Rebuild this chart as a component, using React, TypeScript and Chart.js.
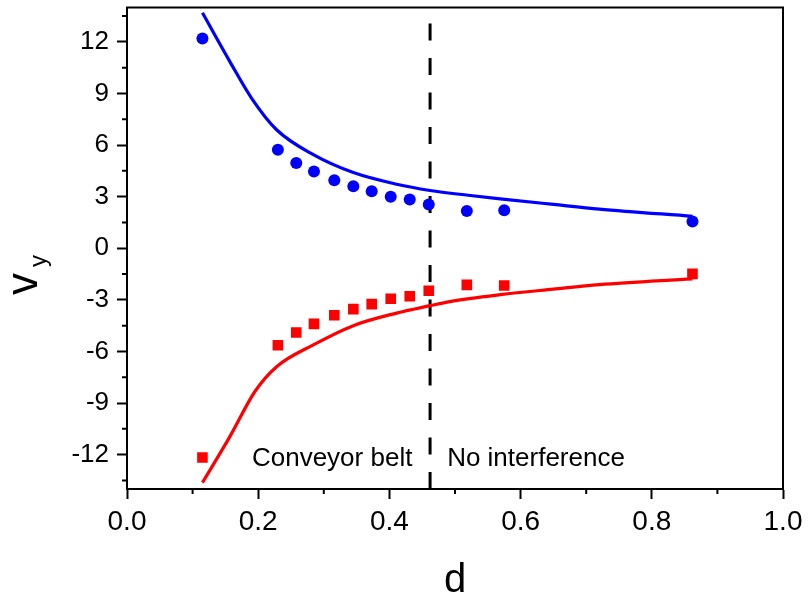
import React, { useEffect, useRef } from "react";
import { Chart, registerables } from "chart.js";
Chart.register(...registerables);

// Measured points
const pointX = [0.115, 0.23, 0.258, 0.285, 0.316, 0.345, 0.373, 0.402, 0.431, 0.46, 0.518, 0.575, 0.862];
const blueY = [12.2, 5.73, 4.96, 4.46, 3.96, 3.61, 3.31, 2.99, 2.84, 2.55, 2.17, 2.21, 1.55];
const redY = [-12.17, -5.64, -4.9, -4.4, -3.9, -3.54, -3.25, -2.94, -2.79, -2.47, -2.13, -2.17, -1.49];

// Model curves
const blueFitX = [0.115, 0.157, 0.19, 0.228, 0.284, 0.345, 0.411, 0.462, 0.52, 0.569, 0.65, 0.72, 0.862];
const blueFitY = [13.69, 10.84, 8.72, 6.89, 5.44, 4.4, 3.72, 3.36, 3.08, 2.87, 2.55, 2.28, 1.86];
const redFitX = [0.115, 0.157, 0.195, 0.228, 0.284, 0.345, 0.411, 0.462, 0.492, 0.569, 0.65, 0.72, 0.862];
const redFitY = [-13.63, -10.94, -8.33, -6.89, -5.62, -4.5, -3.77, -3.34, -3.1, -2.7, -2.38, -2.12, -1.78];

// Divider
const dividerX = 0.462;

// Axes
const xTicks = [0, 0.2, 0.4, 0.6, 0.8, 1.0];
const xMinorTicks = [0.1, 0.3, 0.5, 0.7, 0.9];
const yTicks = [-12, -9, -6, -3, 0, 3, 6, 9, 12];
const yMinorTicks = [-13.5, -10.5, -7.5, -4.5, -1.5, 1.5, 4.5, 7.5, 10.5, 13.5];
const xRange = [0, 1];
const yRange = [-14, 14];

// Annotations
const annotationTexts = ["Conveyor belt", "No interference"];
const annotationX = [0.1905, 0.488];
const annotationY = -12.25;

const FONT = "'Liberation Sans', Arial, sans-serif";

const decorPlugin = {
  id: "decor",
  afterDraw(chart: any) {
    const { ctx, chartArea } = chart;
    const xs = chart.scales.x;
    const ys = chart.scales.y;
    ctx.save();
    ctx.strokeStyle = "#000";
    ctx.lineWidth = 2;
    ctx.strokeRect(chartArea.left, chartArea.top, chartArea.right - chartArea.left, chartArea.bottom - chartArea.top);
    ctx.beginPath();
    xMinorTicks.forEach((v) => {
      const px = xs.getPixelForValue(v);
      ctx.moveTo(px, chartArea.bottom);
      ctx.lineTo(px, chartArea.bottom + 5);
    });
    yMinorTicks.forEach((v) => {
      const py = ys.getPixelForValue(v);
      ctx.moveTo(chartArea.left, py);
      ctx.lineTo(chartArea.left - 5, py);
    });
    ctx.stroke();
    ctx.fillStyle = "#000";
    ctx.font = `26px ${FONT}`;
    ctx.textAlign = "left";
    ctx.textBaseline = "middle";
    annotationTexts.forEach((t, i) => {
      ctx.fillText(t, xs.getPixelForValue(annotationX[i]), ys.getPixelForValue(annotationY));
    });
    ctx.font = `40px ${FONT}`;
    ctx.textAlign = "center";
    ctx.textBaseline = "alphabetic";
    ctx.fillText("d", (chartArea.left + chartArea.right) / 2, 592);
    ctx.translate(37, 295);
    ctx.rotate(-Math.PI / 2);
    ctx.textAlign = "left";
    ctx.font = `44px ${FONT}`;
    ctx.fillText("v", 0, 0);
    const w = ctx.measureText("v").width;
    ctx.font = `24px ${FONT}`;
    ctx.fillText("y", w + 6, 9);
    ctx.restore();
  },
};

export default function App() {
  const ref = useRef<HTMLCanvasElement | null>(null);
  useEffect(() => {
    if (!ref.current) return;
    const chart = new Chart(ref.current, {
      type: "scatter",
      data: {
        datasets: [
          {
            label: "blue",
            data: pointX.map((x, i) => ({ x, y: blueY[i] })),
            showLine: false,
            pointStyle: "circle",
            pointRadius: 6,
            backgroundColor: "#0000ff",
            borderWidth: 0,
          },
          {
            label: "red",
            data: pointX.map((x, i) => ({ x, y: redY[i] })),
            showLine: false,
            pointStyle: "rect",
            pointRadius: 7.5,
            backgroundColor: "#ff0000",
            borderWidth: 0,
          },
          {
            label: "blue fit",
            data: blueFitX.map((x, i) => ({ x, y: blueFitY[i] })),
            showLine: true,
            pointRadius: 0,
            borderColor: "#0000ff",
            borderWidth: 3.2,
            cubicInterpolationMode: "monotone",
          },
          {
            label: "red fit",
            data: redFitX.map((x, i) => ({ x, y: redFitY[i] })),
            showLine: true,
            pointRadius: 0,
            borderColor: "#ff0000",
            borderWidth: 3.2,
            cubicInterpolationMode: "monotone",
          },
          {
            label: "divider",
            data: [
              { x: dividerX, y: yRange[0] },
              { x: dividerX, y: yRange[1] },
            ],
            showLine: true,
            pointRadius: 0,
            borderColor: "#000",
            borderWidth: 3,
            borderDash: [17, 17.5],
          },
        ],
      } as any,
      options: {
        animation: false,
        responsive: false,
        devicePixelRatio: 1,
        layout: { padding: { top: 6, right: 25, left: 0, bottom: 0 } },
        plugins: { legend: { display: false }, tooltip: { enabled: false } },
        scales: {
          x: {
            type: "linear",
            min: xRange[0],
            max: xRange[1],
            afterBuildTicks: (s: any) => {
              s.ticks = xTicks.map((v) => ({ value: v }));
            },
            afterFit: (s: any) => {
              s.height = 110;
              s.paddingLeft = 0;
              s.paddingRight = 0;
            },
            grid: { drawOnChartArea: false, drawTicks: true, tickLength: 10, tickWidth: 2, tickColor: "#000" },
            border: { display: true, color: "#000", width: 2 },
            ticks: {
              color: "#000",
              font: { family: FONT, size: 28 },
              padding: 6,
              maxRotation: 0,
              callback: (v: any) => Number(v).toFixed(1),
            },
          },
          y: {
            type: "linear",
            min: yRange[0],
            max: yRange[1],
            afterBuildTicks: (s: any) => {
              s.ticks = yTicks.map((v) => ({ value: v }));
            },
            afterFit: (s: any) => {
              s.width = 127;
              s.paddingTop = 0;
              s.paddingBottom = 0;
            },
            grid: { drawOnChartArea: false, drawTicks: true, tickLength: 10, tickWidth: 2, tickColor: "#000" },
            border: { display: true, color: "#000", width: 2 },
            ticks: {
              color: "#000",
              font: { family: FONT, size: 26 },
              padding: 8,
              callback: (v: any) => String(v),
            },
          },
        },
      } as any,
      plugins: [decorPlugin],
    });
    return () => chart.destroy();
  }, []);
  return (
    <div style={{ position: "absolute", left: 0, top: 0, width: 808, height: 599, background: "#fff" }}>
      <canvas ref={ref} width={808} height={599} style={{ display: "block" }} />
    </div>
  );
}
